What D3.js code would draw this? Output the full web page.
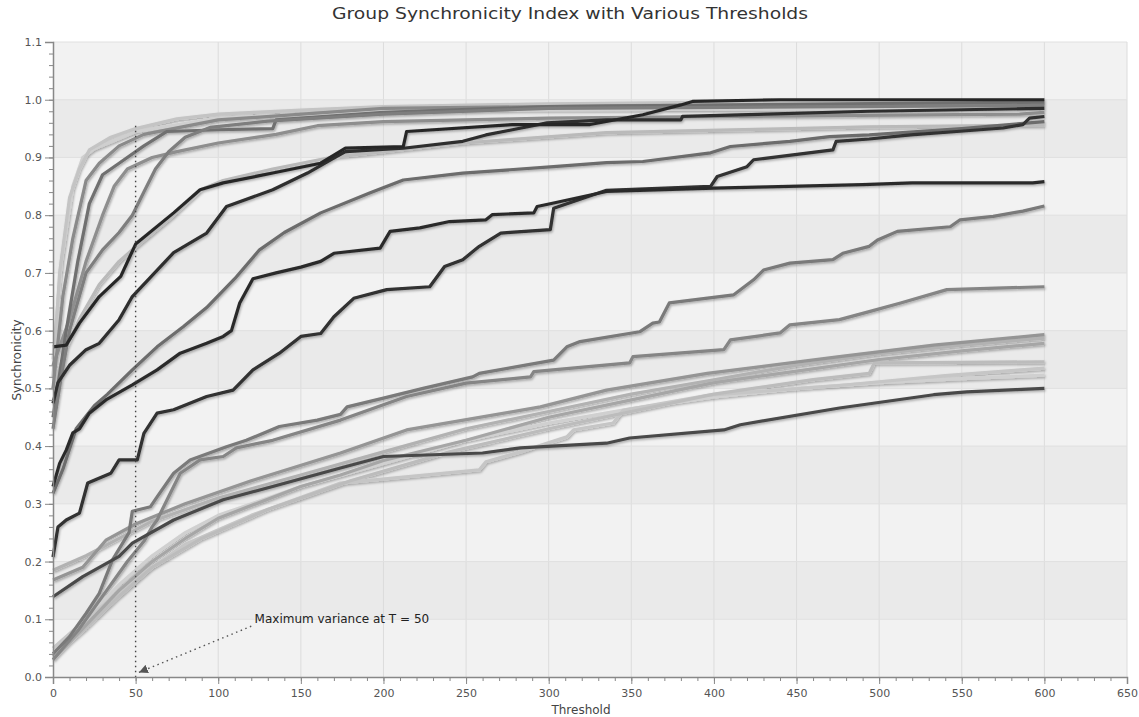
<!DOCTYPE html>
<html>
<head>
<meta charset="utf-8">
<script src="https://cdn.jsdelivr.net/npm/d3@7"></script>
<style>
  body { margin: 0; background: #fff; }
  svg { display: block; font-family: "DejaVu Sans", sans-serif; }
</style>
</head>
<body>
<svg id="chart" width="1139" height="717"></svg>
<script>
// ticks
const xTicks = d3.range(0, 651, 50);
const xMinor = d3.range(0, 651, 10);
const yTicks = d3.range(0, 11.5, 1).map(d => d / 10);
const yMinor = d3.range(0, 55.5, 1).map(d => d / 50);

// series, [threshold, synchronicity]
const kA = [[0,0.572],[8,0.575],[16,0.613],[28,0.659],[41,0.694],[50,0.75],[73,0.804],[89,0.844],[103,0.856],[133,0.873],[162,0.89],[177,0.916],[212,0.919],[214,0.945],[278,0.957],[325,0.957],[357,0.974],[380,0.991],[387,0.997],[440,1.0],[600,1.0]];
const kB = [[0,0.474],[3,0.51],[10,0.54],[20,0.567],[28,0.578],[40,0.619],[48,0.659],[73,0.735],[93,0.769],[105,0.815],[133,0.844],[154,0.873],[168,0.896],[177,0.91],[212,0.916],[248,0.928],[262,0.939],[278,0.948],[299,0.96],[335,0.965],[380,0.965],[381,0.971],[494,0.98],[600,0.985]];
const kC = [[0,0.33],[4,0.37],[8,0.393],[12,0.423],[16,0.43],[22,0.457],[32,0.48],[48,0.506],[63,0.532],[77,0.561],[93,0.578],[103,0.59],[108,0.6],[113,0.648],[121,0.69],[135,0.7],[150,0.71],[162,0.72],[170,0.734],[198,0.743],[204,0.772],[222,0.778],[240,0.789],[262,0.792],[266,0.801],[291,0.804],[293,0.815],[303,0.821],[335,0.841],[400,0.847],[490,0.853],[520,0.856],[593,0.856],[600,0.858]];
const kD = [[0,0.208],[3,0.26],[8,0.272],[16,0.284],[21,0.336],[35,0.353],[40,0.376],[51,0.376],[55,0.422],[63,0.457],[73,0.463],[93,0.486],[109,0.497],[121,0.532],[137,0.561],[150,0.59],[162,0.595],[170,0.624],[182,0.656],[202,0.671],[228,0.676],[237,0.711],[248,0.723],[258,0.746],[271,0.769],[301,0.775],[303,0.812],[335,0.843],[398,0.85],[402,0.867],[420,0.884],[424,0.896],[472,0.913],[474,0.928],[494,0.932],[519,0.939],[547,0.945],[575,0.951],[587,0.957],[591,0.968],[600,0.971]];
const dE = [[0,0.139],[18,0.174],[40,0.209],[48,0.232],[73,0.272],[103,0.307],[133,0.33],[174,0.362],[200,0.382],[260,0.388],[283,0.397],[335,0.405],[349,0.414],[406,0.428],[416,0.437],[476,0.466],[533,0.489],[553,0.494],[600,0.5]];
const g1 = [[0,0.04],[10,0.07],[20,0.11],[28,0.145],[36,0.203],[46,0.25],[48,0.287],[59,0.295],[63,0.312],[73,0.353],[83,0.376],[105,0.399],[117,0.41],[137,0.434],[160,0.445],[174,0.455],[178,0.468],[200,0.483],[224,0.5],[254,0.52],[258,0.526],[303,0.549],[311,0.572],[319,0.581],[355,0.598],[363,0.613],[367,0.615],[373,0.648],[412,0.662],[424,0.688],[430,0.705],[446,0.717],[472,0.723],[478,0.734],[494,0.746],[499,0.757],[511,0.772],[543,0.78],[549,0.792],[569,0.798],[587,0.807],[600,0.816]];
const g2 = [[0,0.03],[15,0.08],[30,0.14],[45,0.2],[55,0.235],[60,0.26],[63,0.272],[73,0.33],[77,0.353],[89,0.376],[103,0.382],[111,0.397],[133,0.41],[174,0.445],[214,0.486],[250,0.509],[289,0.52],[291,0.529],[349,0.544],[351,0.555],[406,0.567],[410,0.584],[440,0.596],[446,0.61],[476,0.619],[494,0.633],[513,0.648],[541,0.671],[600,0.676]];
const g3 = [[0,0.318],[6,0.36],[14,0.43],[25,0.47],[33,0.49],[48,0.532],[63,0.572],[79,0.607],[93,0.64],[110,0.69],[125,0.74],[140,0.77],[162,0.804],[192,0.839],[212,0.861],[248,0.873],[303,0.884],[335,0.891],[357,0.893],[398,0.908],[410,0.919],[446,0.928],[470,0.936],[494,0.939],[550,0.95],[600,0.962]];
const g4 = [[0,0.43],[5,0.52],[10,0.6],[20,0.7],[30,0.74],[40,0.77],[48,0.8],[55,0.84],[62,0.88],[70,0.91],[80,0.935],[95,0.952],[130,0.963],[200,0.975],[300,0.985],[600,0.99]];
const l1 = [[0,0.52],[4,0.7],[10,0.83],[16,0.88],[22,0.913],[35,0.935],[50,0.95],[75,0.967],[100,0.975],[150,0.982],[200,0.988],[300,0.993],[450,0.997],[600,0.998]];
const l2 = [[0,0.55],[5,0.72],[12,0.85],[18,0.9],[25,0.915],[50,0.945],[100,0.968],[200,0.98],[300,0.983],[600,0.985]];
const l3 = [[0,0.5],[6,0.66],[12,0.76],[20,0.86],[28,0.89],[40,0.92],[55,0.94],[100,0.965],[200,0.985],[350,0.99],[600,0.993]];
const l4 = [[0,0.45],[8,0.6],[15,0.72],[22,0.82],[30,0.87],[40,0.89],[55,0.92],[69,0.945],[100,0.948],[133,0.95],[135,0.965],[200,0.978],[300,0.988],[600,0.996]];
const l5 = [[0,0.54],[10,0.62],[20,0.72],[30,0.8],[37,0.85],[45,0.88],[60,0.9],[75,0.91],[100,0.925],[135,0.94],[160,0.955],[200,0.962],[300,0.968],[450,0.972],[585,0.975],[600,0.978]];
const l6 = [[0,0.5],[8,0.57],[16,0.62],[28,0.68],[40,0.72],[50,0.745],[73,0.8],[90,0.845],[103,0.86],[133,0.88],[168,0.9],[200,0.91],[248,0.925],[335,0.943],[494,0.953],[600,0.956]];
const m1 = [[0,0.168],[18,0.19],[32,0.237],[50,0.265],[80,0.3],[120,0.34],[174,0.388],[214,0.428],[295,0.468],[335,0.497],[396,0.526],[476,0.555],[533,0.575],[600,0.593]];
const b1 = [[0,0.185],[20,0.21],[40,0.24],[60,0.27],[100,0.31],[150,0.35],[200,0.39],[250,0.43],[300,0.46],[350,0.49],[400,0.515],[450,0.54],[500,0.56],[550,0.575],[600,0.587]];
const b2 = [[0,0.04],[20,0.1],[40,0.16],[60,0.21],[80,0.25],[100,0.28],[150,0.33],[200,0.37],[250,0.41],[300,0.44],[350,0.465],[400,0.485],[450,0.5],[500,0.51],[550,0.517],[600,0.523]];
const b3 = [[0,0.03],[20,0.09],[40,0.15],[60,0.2],[80,0.24],[100,0.275],[150,0.33],[174,0.35],[200,0.375],[250,0.41],[300,0.45],[350,0.48],[400,0.51],[450,0.53],[500,0.55],[550,0.565],[600,0.578]];
const b4 = [[0,0.05],[20,0.1],[50,0.17],[80,0.23],[120,0.28],[174,0.336],[258,0.359],[262,0.373],[283,0.39],[311,0.416],[315,0.428],[339,0.44],[345,0.462],[396,0.488],[476,0.505],[540,0.522],[600,0.535]];
const b5 = [[0,0.035],[20,0.085],[40,0.14],[60,0.19],[90,0.24],[130,0.29],[180,0.34],[240,0.39],[300,0.43],[350,0.46],[400,0.49],[460,0.515],[494,0.526],[497,0.544],[550,0.545],[600,0.546]];

const seriesList = [
  { data: b2, color: '#d0d0d0' }, { data: b4, color: '#c6c6c6' }, { data: b5, color: '#bcbcbc' },
  { data: b3, color: '#a6a6a6' }, { data: b1, color: '#b2b2b2' }, { data: m1, color: '#959595' },
  { data: l2, color: '#cfcfcf' }, { data: l1, color: '#c4c4c4' }, { data: l6, color: '#bababa' },
  { data: l5, color: '#8e8e8e' }, { data: l3, color: '#8a8a8a' }, { data: l4, color: '#707070' },
  { data: g2, color: '#858585' }, { data: g1, color: '#7a7a7a' }, { data: g4, color: '#7e7e7e' },
  { data: g3, color: '#6c6c6c' }, { data: dE, color: '#4a4a4a' },
  { data: kD, color: '#303030' }, { data: kC, color: '#2c2c2c' }, { data: kB, color: '#2e2e2e' }, { data: kA, color: '#282828' }
];

const svg = d3.select('#chart');
const x = d3.scaleLinear().domain([0, 650]).range([53, 1127]);
const y = d3.scaleLinear().domain([0, 1.1]).range([677, 42]);

// shadow under the lines
const defs = svg.append('defs');
const f = defs.append('filter').attr('id', 'shadow').attr('x', '-5%').attr('y', '-5%').attr('width', '110%').attr('height', '110%');
f.append('feDropShadow').attr('dx', 1).attr('dy', 1.5).attr('stdDeviation', 1)
  .attr('flood-color', '#000').attr('flood-opacity', 0.3);
defs.append('marker')
  .attr('id', 'arrow').attr('viewBox', '0 -5 10 10').attr('refX', 10).attr('refY', 0)
  .attr('markerWidth', 9).attr('markerHeight', 9).attr('markerUnits', 'userSpaceOnUse').attr('orient', 'auto')
  .append('path').attr('d', 'M0,-5L10,0L0,5Z').attr('fill', '#555');

// background bands
svg.append('rect').attr('x', x(0)).attr('y', y(1.1)).attr('width', x(650) - x(0)).attr('height', y(0) - y(1.1)).attr('fill', '#f2f2f2');
svg.append('g').selectAll('rect')
  .data(d3.range(1, 11, 2))
  .join('rect')
  .attr('x', x(0)).attr('width', x(650) - x(0))
  .attr('y', d => y((d + 1) / 10)).attr('height', d => y(d / 10) - y((d + 1) / 10))
  .attr('fill', '#eaeaea');

// grid
svg.append('g').selectAll('line')
  .data(xTicks.filter(d => d > 0 && d !== 50))
  .join('line')
  .attr('x1', d => x(d)).attr('x2', d => x(d)).attr('y1', y(1.1)).attr('y2', y(0))
  .attr('stroke', '#dcdcdc');
svg.append('g').selectAll('line')
  .data(yTicks.filter(d => d > 0))
  .join('line')
  .attr('x1', x(0)).attr('x2', x(650)).attr('y1', d => y(d)).attr('y2', d => y(d))
  .attr('stroke', '#e0e0e0');

// series
const line = d3.line().x(d => x(d[0])).y(d => y(d[1]));
svg.append('g').attr('filter', 'url(#shadow)')
  .selectAll('path')
  .data(seriesList)
  .join('path')
  .attr('d', d => line(d.data))
  .attr('fill', 'none')
  .attr('stroke', d => d.color)
  .attr('stroke-width', 3.2)
  .attr('stroke-linejoin', 'round');

// annotation
svg.append('line')
  .attr('x1', x(50)).attr('x2', x(50)).attr('y1', y(0.955)).attr('y2', y(0))
  .attr('stroke', '#444').attr('stroke-width', 1.4).attr('stroke-dasharray', '1.5,3.5');
svg.append('line')
  .attr('x1', x(120)).attr('y1', y(0.088)).attr('x2', x(52)).attr('y2', y(0.008))
  .attr('stroke', '#555').attr('stroke-width', 1.4).attr('stroke-dasharray', '1.5,3.5')
  .attr('marker-end', 'url(#arrow)');
svg.append('text')
  .attr('x', x(122)).attr('y', y(0.1) + 4)
  .attr('font-size', 12).attr('fill', '#222')
  .text('Maximum variance at T = 50');

// axes
const fmt = d3.format('.1f');
svg.append('g').attr('transform', `translate(${x(0)},0)`)
  .call(d3.axisLeft(y).tickValues(yTicks).tickFormat(fmt).tickSize(8).tickPadding(3));
svg.append('g').attr('transform', `translate(${x(0)},0)`)
  .call(d3.axisLeft(y).tickValues(yMinor).tickFormat('').tickSize(4))
  .call(g => g.select('.domain').remove());
svg.append('g').attr('transform', `translate(0,${y(0)})`)
  .call(d3.axisBottom(x).tickValues(xTicks).tickSize(7).tickPadding(5));
svg.append('g').attr('transform', `translate(0,${y(0)})`)
  .call(d3.axisBottom(x).tickValues(xMinor).tickFormat('').tickSize(4))
  .call(g => g.select('.domain').remove());
svg.selectAll('.domain').attr('stroke', '#888').attr('stroke-width', 1.5);
svg.selectAll('.tick line').attr('stroke', '#888');
svg.selectAll('.tick text').attr('fill', '#555').attr('font-size', 11).attr('font-family', '"DejaVu Sans", sans-serif');

// titles
svg.append('text')
  .attr('x', 570).attr('y', 19).attr('text-anchor', 'middle')
  .attr('font-size', 16).attr('fill', '#333')
  .attr('textLength', 476).attr('lengthAdjust', 'spacingAndGlyphs')
  .text('Group Synchronicity Index with Various Thresholds');
svg.append('text')
  .attr('x', 581).attr('y', 714).attr('text-anchor', 'middle')
  .attr('font-size', 12).attr('fill', '#444')
  .text('Threshold');
svg.append('text')
  .attr('transform', 'translate(21,360) rotate(-90)').attr('text-anchor', 'middle')
  .attr('font-size', 12).attr('fill', '#444')
  .text('Synchronicity');
</script>
</body>
</html>
